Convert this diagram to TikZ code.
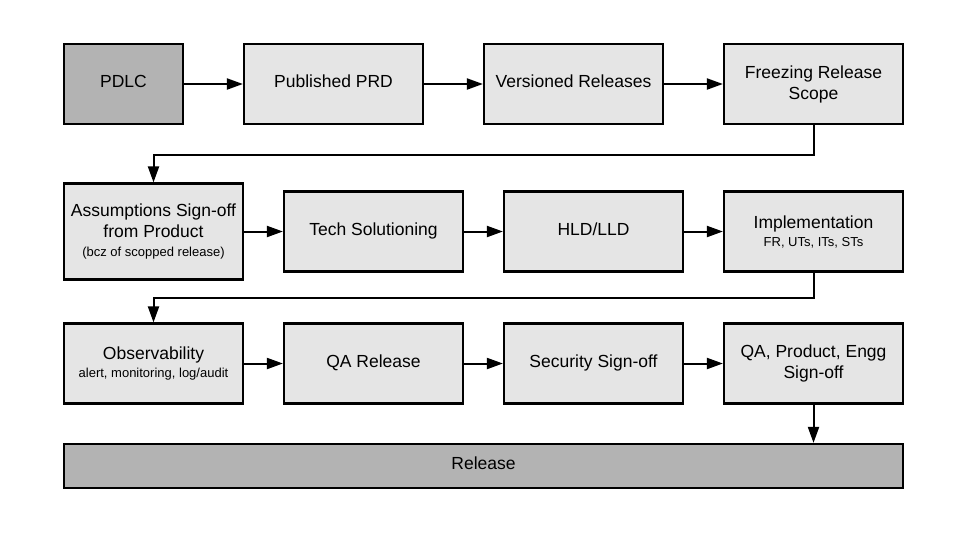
\documentclass[tikz,border=0pt]{standalone}
\usepackage{fontspec}
\setmainfont{Liberation Sans}
\usetikzlibrary{arrows.meta}
\definecolor{boxlight}{HTML}{E5E5E5}
\definecolor{boxdark}{HTML}{B3B3B3}
\newcommand{\smalltxt}[1]{{\fontsize{13}{15}\selectfont #1}}
\begin{document}
\begin{tikzpicture}[x=1pt,y=-1pt,
  stepbox/.style={draw=black,line width=2.2pt,fill=boxlight,align=center,inner sep=0pt,font=\fontsize{17.5}{21}\selectfont},
  darkbox/.style={stepbox,fill=boxdark},
  oneline/.style={text height=12.5pt,text depth=5pt},
  conn/.style={line width=2pt,-{Triangle[length=16pt,width=11pt]}}]
\useasboundingbox (0,0) rectangle (968,533);
% row 1
\node[darkbox,oneline,minimum width=119pt,minimum height=80pt] (pdlc) at (123.5,84) {PDLC};
\node[stepbox,oneline,minimum width=179pt,minimum height=80pt] (prd) at (333.5,84) {Published PRD};
\node[stepbox,oneline,minimum width=179pt,minimum height=80pt] (ver) at (573.5,84) {Versioned Releases};
\node[stepbox,minimum width=179pt,minimum height=80pt] (frz) at (813.5,84) {Freezing Release\\Scope};
% row 2
\node[stepbox,minimum width=179pt,minimum height=96pt] (asm) at (153.5,231.5) {Assumptions Sign-off\\from Product\\[-2pt]\smalltxt{(bcz of scopped release)}};
\node[stepbox,oneline,minimum width=179pt,minimum height=80pt] (tech) at (373.5,231.5) {Tech Solutioning};
\node[stepbox,oneline,minimum width=179pt,minimum height=80pt] (hld) at (593.5,231.5) {HLD/LLD};
\node[stepbox,minimum width=179pt,minimum height=80pt] (impl) at (813.5,231.5) {Implementation\\[-3pt]\smalltxt{FR, UTs, ITs, STs}};
% row 3
\node[stepbox,minimum width=179pt,minimum height=80pt] (obs) at (153.5,363.5) {Observability\\[-3pt]\smalltxt{alert, monitoring, log/audit}};
\node[stepbox,oneline,minimum width=179pt,minimum height=80pt] (qa) at (373.5,363.5) {QA Release};
\node[stepbox,oneline,minimum width=179pt,minimum height=80pt] (sec) at (593.5,363.5) {Security Sign-off};
\node[stepbox,minimum width=179pt,minimum height=80pt] (qpe) at (813.5,363.5) {QA, Product, Engg\\Sign-off};
% release
\node[darkbox,oneline,minimum width=839pt,minimum height=44pt] (rel) at (483.5,466) {Release};
% connectors
\draw[conn] (pdlc) -- (prd);
\draw[conn] (prd) -- (ver);
\draw[conn] (ver) -- (frz);
\draw[conn] (frz.south) -- ++(0,30) -| (asm.north);
\draw[conn] (asm.east |- tech) -- (tech);
\draw[conn] (tech) -- (hld);
\draw[conn] (hld) -- (impl);
\draw[conn] (impl.south) -- ++(0,25.5) -| (obs.north);
\draw[conn] (obs) -- (qa);
\draw[conn] (qa) -- (sec);
\draw[conn] (sec) -- (qpe);
\draw[conn] (qpe.south) -- (qpe.south |- rel.north);
\end{tikzpicture}
\end{document}
